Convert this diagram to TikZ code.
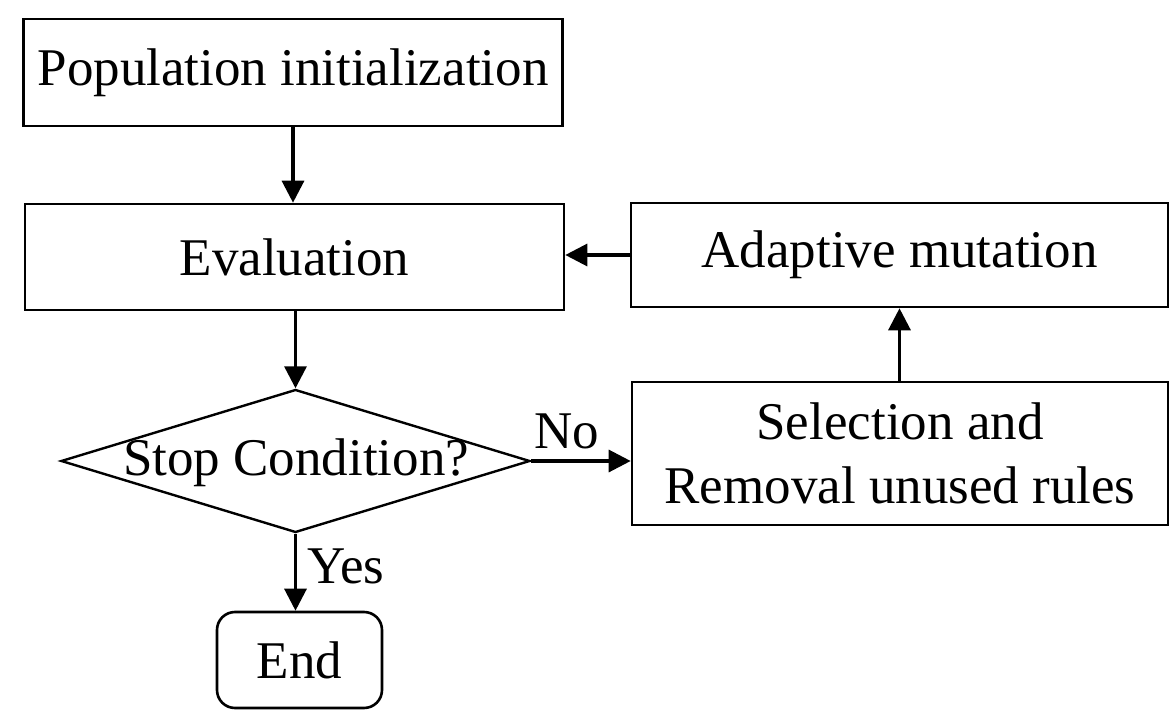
\documentclass[tikz,border=0pt]{standalone}
\usepackage{fontspec}
\setmainfont{Liberation Serif}
\usetikzlibrary{arrows.meta,shapes.geometric}
\begin{document}
\begin{tikzpicture}[x=0.5pt,y=-0.5pt,
  every node/.style={font=\fontsize{26.5}{32}\selectfont, inner sep=0pt},
  procbox/.style={draw, line width=1.3pt, rectangle, align=center},
  endbox/.style={draw, line width=1.3pt, rectangle, rounded corners=9pt},
  decbox/.style={draw, line width=1.2pt, diamond},
  arr/.style={line width=1.6pt, -{Triangle[length=11pt,width=11pt]}}
]
\useasboundingbox (0,0) rectangle (1169,712);
\node[procbox, minimum width=269.5pt, minimum height=53.5pt] (pop) at (293,72.5) {Population initialization};
\node[procbox, minimum width=269.5pt, minimum height=53pt] (eval) at (294.5,257) {Evaluation};
\node[procbox, minimum width=268.5pt, minimum height=52pt] (adapt) at (899.5,255) {Adaptive mutation};
\node[procbox, minimum width=268pt, minimum height=71.5pt] (sel) at (900,453.5) {Selection and\\Removal unused rules};
\node[decbox, minimum width=234.5pt, minimum height=71.5pt] (stop) at (295.5,461) {};
\node (stoptxt) at (296,463) {Stop Condition?};
\node[endbox, minimum width=82.5pt, minimum height=48pt] (end) at (299.5,660) {End};

\draw[arr] (pop.south) -- (pop.south |- eval.north);
\draw[arr] (adapt.west) -- (adapt.west -| eval.east);
\draw[arr] (eval.south -| stop.north) -- (stop.north);
\draw[arr] (stop.east) -- (stop.east -| sel.west) node[pos=0.36, above=5pt] (no) {No};
\draw[arr] (sel.north -| adapt.south) -- (adapt.south);
\draw[arr] (stop.south) -- (stop.south |- end.north) node[pos=0.42, right=5pt] (yes) {Yes};
\end{tikzpicture}
\end{document}
